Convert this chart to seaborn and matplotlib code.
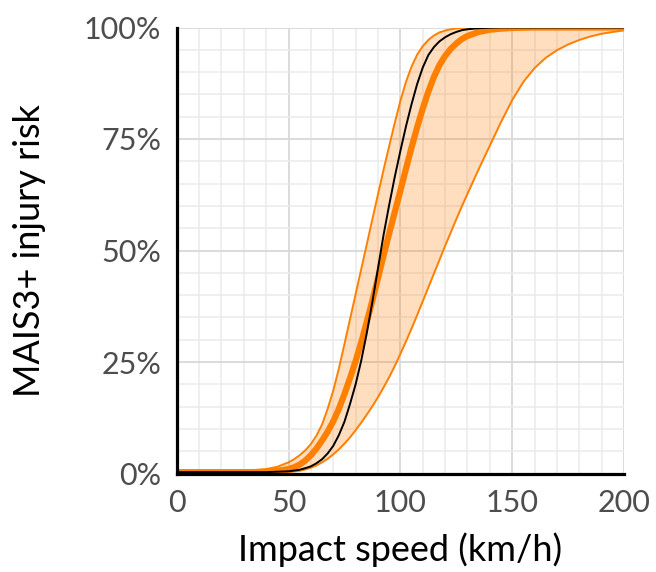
import matplotlib
matplotlib.use("Agg")
import matplotlib.pyplot as plt
from matplotlib.ticker import MultipleLocator, FixedLocator, FuncFormatter
import seaborn as sns
import pandas as pd

# ---- data ----
speed = [0, 10, 20, 30, 40, 45,
         50, 52.5, 55, 57.5, 60, 62.5, 65, 67.5, 70, 72.5, 75, 77.5, 80, 82.5,
         85, 87.5, 90, 92.5, 95, 97.5, 100, 102.5, 105, 107.5, 110, 112.5, 115,
         117.5, 120, 122.5, 125, 127.5, 130,
         135, 140, 145, 150, 155, 160, 165, 170, 175, 180, 185, 190, 195, 200]

# upper bound of the band (left orange edge), percent
risk_upper = [0.4, 0.4, 0.5, 0.6, 1.0, 1.5,
              2.5, 3.2, 4.1, 5.2, 6.6, 8.5, 11.0, 14.5, 18.6, 23.5, 29.0, 34.6,
              40.2, 45.8, 51.4, 57.0, 62.6, 68.1, 73.4, 78.6, 83.5, 87.8, 91.2,
              93.9, 95.8, 97.2, 98.2, 98.9, 99.3, 99.6, 99.8, 99.9, 99.95,
              100, 100, 100, 100, 100, 100, 100, 100, 100, 100, 100, 100, 100, 100]

# lower bound of the band (right orange edge), percent
risk_lower = [0.3, 0.3, 0.3, 0.3, 0.3, 0.3,
              0.3, 0.45, 0.6, 0.9, 1.3, 1.8, 2.5, 3.3, 4.3, 5.4, 6.7, 8.1, 9.7,
              11.4, 13.2, 15.1, 17.1, 19.3, 21.6, 24.1, 26.8, 29.6, 32.5, 35.5,
              38.6, 41.7, 44.8, 47.9, 51.0, 54.0, 57.0, 59.9, 62.7,
              68.2, 73.5, 78.8, 83.7, 87.8, 90.9, 93.2, 94.9, 96.2, 97.2, 98.0,
              98.6, 99.0, 99.35]

# thick orange curve, percent
risk_thick = [0.3, 0.3, 0.3, 0.3, 0.3, 0.6,
              1.0, 1.4, 2.0, 2.9, 4.1, 5.6, 7.4, 9.4, 11.7, 14.5, 17.8, 21.4,
              25.2, 29.4, 34.0, 38.8, 43.8, 48.9, 53.8, 58.6, 63.4, 68.3, 73.1,
              77.6, 81.8, 85.6, 88.9, 91.6, 93.6, 95.2, 96.4, 97.4, 98.1,
              99.0, 99.5, 99.75, 99.9, 99.95, 100, 100, 100, 100, 100, 100, 100,
              100, 100]

# black curve, percent
risk_black = [0.3, 0.3, 0.3, 0.3, 0.3, 0.4,
              0.5, 0.65, 0.85, 1.2, 1.6, 2.3, 3.2, 4.5, 6.2, 8.6, 11.6, 15.6,
              20.0, 25.3, 31.5, 38.5, 46.0, 53.5, 60.2, 66.5, 72.3, 77.8, 82.8,
              87.3, 91.0, 93.8, 95.6, 96.9, 97.8, 98.5, 99.0, 99.4, 99.6,
              99.85, 99.95, 100, 100, 100, 100, 100, 100, 100, 100, 100, 100,
              100, 100]

x_ticks = [0, 50, 100, 150, 200]
y_ticks = [0, 25, 50, 75, 100]
x_label = "Impact speed (km/h)"
y_label = "MAIS3+ injury risk"

df = pd.DataFrame({
    "speed": speed,
    "upper": [v / 100 for v in risk_upper],
    "lower": [v / 100 for v in risk_lower],
    "thick": [v / 100 for v in risk_thick],
    "black": [v / 100 for v in risk_black],
})

sns.set_theme(style="white")
plt.rcParams["font.family"] = ["Lato", "DejaVu Sans"]

ORANGE = "#FF7F00"

fig = plt.figure(figsize=(6.56, 5.72), dpi=100)
ax = fig.add_axes([176.7 / 656, (572 - 473.5) / 572, (624 - 176.7) / 656, (473.5 - 27.5) / 572])

ax.fill_between(df["speed"], df["lower"], df["upper"], color=ORANGE, alpha=0.25,
                lw=0, zorder=2)
sns.lineplot(data=df, x="speed", y="upper", color=ORANGE, lw=1.4, ax=ax, zorder=3)
sns.lineplot(data=df, x="speed", y="lower", color=ORANGE, lw=1.4, ax=ax, zorder=3)
sns.lineplot(data=df, x="speed", y="thick", color=ORANGE, lw=4.5, ax=ax, zorder=4)
sns.lineplot(data=df, x="speed", y="black", color="black", lw=1.4, ax=ax, zorder=5)

ax.set_xlim(0, 200)
ax.set_ylim(0, 1)
ax.xaxis.set_major_locator(FixedLocator(x_ticks))
ax.yaxis.set_major_locator(FixedLocator([v / 100 for v in y_ticks]))
ax.xaxis.set_minor_locator(MultipleLocator(10))
ax.yaxis.set_minor_locator(MultipleLocator(0.05))
ax.yaxis.set_major_formatter(FuncFormatter(lambda v, p: f"{v * 100:.0f}%"))

ax.set_axisbelow(True)
ax.grid(which="major", color="#DADADA", lw=1.4)
ax.grid(which="minor", color="#EBEBEB", lw=1.1)

for s in ["top", "right"]:
    ax.spines[s].set_visible(False)
for s in ["left", "bottom"]:
    ax.spines[s].set_color("black")
    ax.spines[s].set_linewidth(2.3)
    ax.spines[s].set_zorder(6)

ax.tick_params(which="major", length=5, width=2.3, color="black",
               labelsize=22, labelcolor="#4D4D4D", pad=6)
ax.tick_params(which="minor", length=0)

ax.set_xlabel(x_label, fontsize=26, color="black")
ax.set_ylabel(y_label, fontsize=26, color="black")
ax.xaxis.set_label_coords(0.5, -(550 - 473.5) / 446)
ax.xaxis.label.set_va("center")
ax.yaxis.set_label_coords(-(176.7 - 30) / 447.3, 0.5)
ax.yaxis.label.set_va("center")

fig.savefig("out.png", dpi=100)
